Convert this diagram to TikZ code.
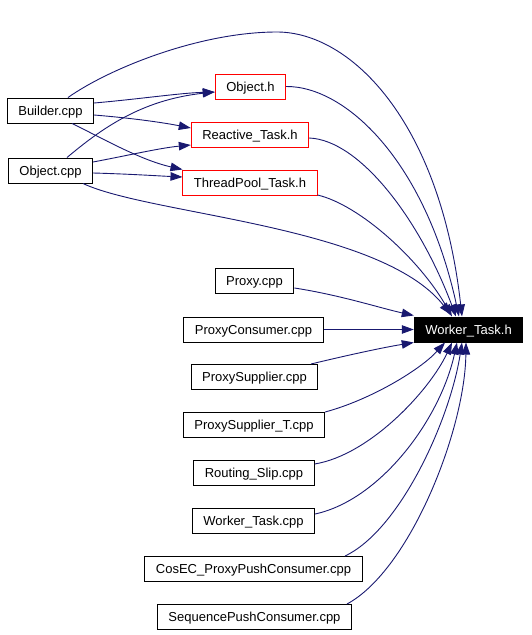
\documentclass[tikz,border=0pt]{standalone}
\usepackage{fontspec}
\setmainfont{Liberation Sans}
\usepackage{xcolor}
\usetikzlibrary{arrows.meta,calc}
\definecolor{midnight}{RGB}{25,25,112}
\begin{document}
\begin{tikzpicture}[x=1pt,y=-1pt,
  file/.style={draw=black,line width=1pt,minimum height=25pt,inner xsep=11pt,inner ysep=0pt,text height=9.3pt,text depth=0pt,font=\fontsize{13}{15}\selectfont},
  hdr/.style={file,draw=red},
  dep/.style={draw=midnight,line width=0.9pt,-{Triangle[length=12pt,width=8.5pt]}}]
                    \useasboundingbox (0,0) rectangle (531,635);
                    \node[file] (b) at (50.5,110.5) {Builder.cpp};
                    \node[file] (oc) at (50.5,170.5) {Object.cpp};
                    \node[hdr] (oh) at (250.5,86.5) {Object.h};
                    \node[hdr] (rt) at (250,134.5) {Reactive\_Task.h};
                    \node[hdr] (tp) at (250,182.5) {ThreadPool\_Task.h};
                    \node[file,fill=black,text=white] (w) at (468.5,329.5) {Worker\_Task.h};
                    \foreach \n \x \y \t in {px/254.5/281/Proxy.cpp,pc/253.5/329.5/ProxyConsumer.cpp,ps/254.5/377/ProxySupplier.cpp,
                      pt/254/425/ProxySupplier\_T.cpp,rs/254/473/Routing\_Slip.cpp,wt/253.5/521/Worker\_Task.cpp,
                      ce/253.5/569/CosEC\_ProxyPushConsumer.cpp,sp/254.5/617/SequencePushConsumer.cpp}
                    \node[file] (\n) at (\x,\y) {\t};
                    % sources -> headers
                    \draw[dep] ($(b.east)+(0,-7.5)$) .. controls (140,99) and (180,93) .. ($(oh.west)+(0,5.5)$);
                    \draw[dep] ($(b.east)+(0,4.5)$) .. controls (130,118) and (160,122) .. ($(rt.west)+(0,-6.5)$);
                    \draw[dep] ($(b.south)+(21.5,0)$) .. controls (100,137) and (140,160) .. (tp.north west);
                    \draw[dep] ($(oc.north)+(16.5,0)$) .. controls (100,130) and (140,100) .. ($(oh.west)+(0,5.5)$);
                    \draw[dep] ($(oc.east)+(0,-8.5)$) .. controls (130,155) and (160,148) .. ($(rt.west)+(0,10.5)$);
                    \draw[dep] ($(oc.east)+(0,2.5)$) .. controls (130,174) and (160,176) .. ($(tp.west)+(0,-5.5)$);
                    % everything -> Worker_Task.h
                    \draw[dep] ($(b.north)+(17.5,0)$) .. controls (110,68) and (200,32) .. (277,32)
                                 .. controls (350,32) and (440,120) .. ($(w.north)+(-6.5,0)$);
                    \draw[dep] ($(oc.south)+(32.5,0)$) .. controls (150,215) and (380,225) .. ($(w.north west)+(37,-2)$);
                    \draw[dep] (oh.east) .. controls (345,86) and (425,160) .. ($(w.north)+(-9.5,0)$);
                    \draw[dep] ($(rt.east)+(0,3.5)$) .. controls (360,140) and (420,220) .. ($(w.north)+(-12.5,0)$);
                    \draw[dep] ($(tp.east)+(0,12.5)$) .. controls (360,205) and (420,260) .. ($(w.north)+(-16.5,0)$);
                    \draw[dep] ($(px.east)+(0,7)$) .. controls (340,295) and (380,308) .. ($(w.west)+(0,-14)$);
                    \draw[dep] (pc.east) -- (w.west);
                    \draw[dep] ($(ps.north)+(56.5,0)$) .. controls (340,357) and (380,348) .. (w.south west);
                    \draw[dep] (pt.north east) .. controls (370,400) and (420,370) .. ($(w.south)+(-23.5,0)$);
                    \draw[dep] ($(rs.east)+(0,-9)$) .. controls (370,455) and (430,390) .. ($(w.south)+(-16.5,0)$);
                    \draw[dep] ($(wt.east)+(0,-7)$) .. controls (380,500) and (440,420) .. ($(w.south)+(-11.5,0)$);
                    \draw[dep] ($(ce.north)+(91.5,0)$) .. controls (400,530) and (450,420) .. ($(w.south)+(-6.5,0)$);
                    \draw[dep] ($(sp.north)+(92.5,0)$) .. controls (410,570) and (465,430) .. ($(w.south)+(-2.5,0)$);
                \end{tikzpicture}
\end{document}
